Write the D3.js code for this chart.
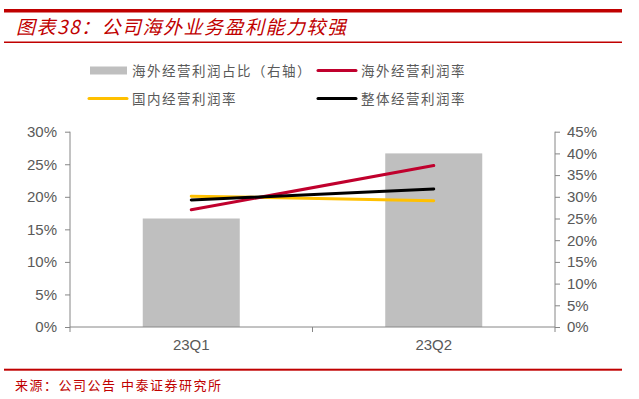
<!DOCTYPE html>
<html>
<head>
<meta charset="utf-8">
<script src="https://cdn.jsdelivr.net/npm/d3@7"></script>
<style>
  body { margin: 0; background: #fff; }
  text { font-family: "Liberation Sans", Arial, sans-serif; }
  .cjk { font-family: "Noto Sans CJK SC", sans-serif; }
</style>
</head>
<body>
<div id="chart"></div>
<script>
const categories = ["23Q1", "23Q2"];
const overseasShare = [0.25, 0.40];      // 海外经营利润占比（右轴）
const overseasMargin = [0.180, 0.248];   // 海外经营利润率
const domesticMargin = [0.201, 0.194];   // 国内经营利润率
const totalMargin = [0.195, 0.212];      // 整体经营利润率
const leftTicks = [0, 0.05, 0.10, 0.15, 0.20, 0.25, 0.30];
const rightTicks = [0, 0.05, 0.10, 0.15, 0.20, 0.25, 0.30, 0.35, 0.40, 0.45];

const W = 639, H = 399;
const red = "#c00000";
const axisColor = "#868686";
const labelColor = "#595959";

const svg = d3.select("#chart")
  .append("svg")
  .attr("width", W)
  .attr("height", H);

// header & footer
svg.append("rect").attr("x", 4).attr("y", 9).attr("width", 618).attr("height", 3.5).attr("fill", red);
svg.append("text")
  .attr("class", "cjk")
  .attr("x", 16).attr("y", 34)
  .attr("fill", red)
  .attr("font-size", 19)
  .attr("font-style", "italic")
  .attr("letter-spacing", 1.5)
  .text("图表38：公司海外业务盈利能力较强");
svg.append("rect").attr("x", 4).attr("y", 41.5).attr("width", 618).attr("height", 1.5).attr("fill", red);
svg.append("rect").attr("x", 4).attr("y", 368.7).attr("width", 618).attr("height", 2).attr("fill", red);
svg.append("text")
  .attr("class", "cjk")
  .attr("x", 15).attr("y", 390)
  .attr("fill", red)
  .attr("font-size", 13)
  .attr("letter-spacing", 1.5)
  .text("来源：公司公告 中泰证券研究所");

// plot area
const pLeft = 70, pRight = 555, pTop = 131.7, pBottom = 327;

const x = d3.scaleBand()
  .domain(categories)
  .range([pLeft, pRight])
  .paddingInner(0.6)
  .paddingOuter(0.3);
const xStep = (pRight - pLeft) / categories.length;

const yL = d3.scaleLinear().domain([0, 0.30]).range([pBottom, pTop]);
const yR = d3.scaleLinear().domain([0, 0.45]).range([pBottom, pTop]);

// bars
svg.append("g")
  .selectAll("rect")
  .data(overseasShare)
  .enter()
  .append("rect")
  .attr("x", (d, i) => x(categories[i]))
  .attr("y", d => yR(d))
  .attr("width", x.bandwidth())
  .attr("height", d => pBottom - yR(d))
  .attr("fill", "#bfbfbf");

// axes
const fmt = d3.format(".0%");
const gL = svg.append("g")
  .attr("transform", `translate(${pLeft},0)`)
  .call(d3.axisLeft(yL).tickValues(leftTicks).tickFormat(fmt).tickSize(5).tickPadding(8));
const gR = svg.append("g")
  .attr("transform", `translate(${pRight},0)`)
  .call(d3.axisRight(yR).tickValues(rightTicks).tickFormat(fmt).tickSize(5).tickPadding(7));

[gL, gR].forEach(g => {
  g.select(".domain").remove();
  g.selectAll(".tick line").attr("stroke", axisColor);
  g.selectAll(".tick text")
    .attr("fill", labelColor)
    .attr("font-size", 15)
    .attr("font-family", "Liberation Sans, Arial, sans-serif");
});
svg.append("line")
  .attr("x1", pLeft).attr("x2", pLeft)
  .attr("y1", pTop).attr("y2", pBottom + 5)
  .attr("stroke", axisColor);
svg.append("line")
  .attr("x1", pRight).attr("x2", pRight)
  .attr("y1", pTop).attr("y2", pBottom + 5)
  .attr("stroke", axisColor);

// x axis with ticks between categories
const gX = svg.append("g")
  .attr("transform", `translate(0,${pBottom})`)
  .call(d3.axisBottom(x).tickSize(0).tickPadding(12));
gX.select(".domain").remove();
gX.selectAll(".tick text")
  .attr("fill", labelColor)
  .attr("font-size", 15)
  .attr("font-family", "Liberation Sans, Arial, sans-serif");
svg.append("line")
  .attr("x1", pLeft).attr("x2", pRight)
  .attr("y1", pBottom).attr("y2", pBottom)
  .attr("stroke", axisColor);
d3.range(1, categories.length).forEach(i => {
  svg.append("line")
    .attr("x1", pLeft + xStep * i).attr("x2", pLeft + xStep * i)
    .attr("y1", pBottom).attr("y2", pBottom + 5)
    .attr("stroke", axisColor);
});

// lines
const series = [
  { name: "国内经营利润率", values: domesticMargin, color: "#ffc000" },
  { name: "海外经营利润率", values: overseasMargin, color: "#c0002d" },
  { name: "整体经营利润率", values: totalMargin, color: "#000000" }
];
const line = d3.line()
  .x((d, i) => x(categories[i]) + x.bandwidth() / 2)
  .y(d => yL(d));
svg.append("g")
  .selectAll("path")
  .data(series)
  .enter()
  .append("path")
  .attr("d", d => line(d.values))
  .attr("fill", "none")
  .attr("stroke", d => d.color)
  .attr("stroke-width", 3)
  .attr("stroke-linecap", "round");

// legend
const legendItems = [
  { name: "海外经营利润占比（右轴）", type: "bar", color: "#bfbfbf", x: 90, y: 70.5 },
  { name: "海外经营利润率", type: "line", color: "#c0002d", x: 317, y: 70.5 },
  { name: "国内经营利润率", type: "line", color: "#ffc000", x: 88, y: 98.5 },
  { name: "整体经营利润率", type: "line", color: "#000000", x: 317, y: 98.5 }
];
const lg = svg.append("g")
  .selectAll("g")
  .data(legendItems)
  .enter()
  .append("g")
  .attr("transform", d => `translate(${d.x},${d.y})`);
lg.filter(d => d.type === "bar")
  .append("rect")
  .attr("x", 0).attr("y", -4)
  .attr("width", 37).attr("height", 8)
  .attr("fill", d => d.color);
lg.filter(d => d.type === "line")
  .append("line")
  .attr("x1", 1).attr("x2", 39)
  .attr("stroke", d => d.color)
  .attr("stroke-width", 3)
  .attr("stroke-linecap", "round");
lg.append("text")
  .attr("class", "cjk")
  .attr("x", d => d.type === "bar" ? 42 : 44)
  .attr("y", 5)
  .attr("fill", labelColor)
  .attr("font-size", 13.5)
  .attr("letter-spacing", 1.5)
  .text(d => d.name);
</script>
</body>
</html>
